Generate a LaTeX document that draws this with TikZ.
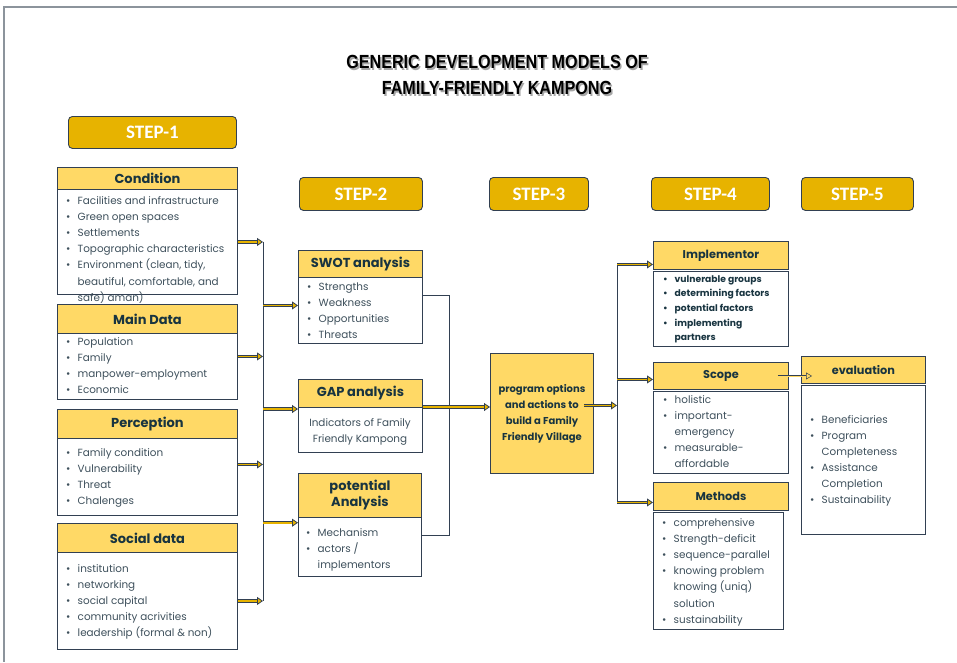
\documentclass[tikz,border=0pt]{standalone}
\usepackage{fontspec}
\usetikzlibrary{arrows.meta}
\newfontfamily\stepfont{Carlito}
\newfontfamily\titlefont{Liberation Sans}
\newfontfamily\gothic{Poppins}
\definecolor{stepgold}{RGB}{231,179,0}
\definecolor{headgold}{RGB}{255,217,102}
\definecolor{edge}{RGB}{50,64,82}
\definecolor{ink}{RGB}{24,52,64}
\definecolor{txt}{RGB}{62,80,92}
\definecolor{framec}{RGB}{140,148,156}
\newcommand\bu{\makebox[11.5pt][l]{\textbullet}}
\newcommand\ind{\hspace*{11.5pt}}
\newcommand\itemsof[1]{\begin{tabular}[t]{@{}l@{}}#1\end{tabular}}
\newcommand\banner[1]{\scalebox{0.85}[1]{#1}}
\begin{document}
\begin{tikzpicture}[x=1pt,y=-1pt,
  stepbox/.style={draw=edge, line width=0.9pt, fill=stepgold, rounded corners=4pt,
    text=white, font=\stepfont\bfseries\fontsize{19}{20}\selectfont,
    anchor=north west, inner sep=0pt},
  head/.style={draw=edge, line width=0.9pt, fill=headgold, text=ink, align=center,
    font=\gothic\bfseries\fontsize{13}{16}\selectfont, anchor=north west, inner sep=0pt},
  smallhead/.style={head, font=\gothic\bfseries\fontsize{11.3}{14}\selectfont},
  box/.style={draw=edge, line width=0.9pt, fill=white, anchor=north west, inner sep=0pt},
  items/.style={anchor=base west, inner sep=0pt, text=txt,
    font=\gothic\fontsize{10.4}{16.1}\selectfont},
  title/.style={font=\titlefont\bfseries\fontsize{19}{20}\selectfont, inner sep=0pt},
  feed/.style={draw=edge, double=stepgold, double distance=1.6pt, line width=0.8pt,
    -{Triangle[length=6pt,width=8pt,fill=stepgold]}},
  link/.style={draw=edge, double=headgold, double distance=0.9pt, line width=0.5pt,
    -{Triangle[length=6pt,width=7pt,fill=headgold]}},
  wire/.style={draw=edge, line width=1pt}]
\useasboundingbox (0,0) rectangle (957,662);
\draw[framec, line width=1.2pt] (957,7) -- (4,7) -- (4,662);

% heading
\node[title, text=black!35] (titleAsh) at (498.5,63.5) {\banner{GENERIC DEVELOPMENT MODELS OF}};
\node[title, text=black!35] (titleBsh) at (498.5,89.5) {\banner{FAMILY-FRIENDLY KAMPONG}};
\node[title] (titleA) at (497,62) {\banner{GENERIC DEVELOPMENT MODELS OF}};
\node[title] (titleB) at (497,88) {\banner{FAMILY-FRIENDLY KAMPONG}};

% steps
\node[stepbox, minimum width=168pt, minimum height=32pt] (s1) at (68,116) {STEP-1};
\node[stepbox, minimum width=123pt, minimum height=33pt] (s2) at (299,177) {STEP-2};
\node[stepbox, minimum width=99pt, minimum height=33pt] (s3) at (489,177) {STEP-3};
\node[stepbox, minimum width=118pt, minimum height=33pt] (s4) at (651,177) {STEP-4};
\node[stepbox, minimum width=112pt, minimum height=33pt] (s5) at (801,177) {STEP-5};

% step 1 column
\node[head, minimum width=180pt, minimum height=22pt] (condHead) at (57,167) {Condition};
\node[box, minimum width=180pt, minimum height=105pt] (condBody) at (57,189) {};
\node[items] (condList) at (66,204.5) {\itemsof{\bu Facilities and infrastructure\\
  \bu Green open spaces\\ \bu Settlements\\ \bu Topographic characteristics\\
  \bu Environment (clean, tidy,\\ \ind beautiful, comfortable, and\\ \ind safe) aman)}};
\node[head, minimum width=180pt, minimum height=29pt] (mainHead) at (57,304) {Main Data};
\node[box, minimum width=180pt, minimum height=66pt] (mainBody) at (57,333) {};
\node[items] (mainList) at (66,345.5) {\itemsof{\bu Population\\ \bu Family\\
  \bu manpower-employment\\ \bu Economic}};
\node[head, minimum width=180pt, minimum height=29pt] (percHead) at (57,409) {Perception};
\node[box, minimum width=180pt, minimum height=77pt] (percBody) at (57,438) {};
\node[items] (percList) at (66,456.3) {\itemsof{\bu Family condition\\ \bu Vulnerability\\
  \bu Threat\\ \bu Chalenges}};
\node[head, minimum width=180pt, minimum height=29pt] (socHead) at (57,523) {Social data};
\node[box, minimum width=180pt, minimum height=97pt] (socBody) at (57,552) {};
\node[items] (socList) at (66,572.3) {\itemsof{\bu institution\\ \bu networking\\
  \bu social capital\\ \bu community acrivities\\ \bu leadership (formal \& non)}};

% step 2 column
\node[head, minimum width=124pt, minimum height=27pt] (swotHead) at (298,250) {SWOT analysis};
\node[box, minimum width=124pt, minimum height=66pt] (swotBody) at (298,277) {};
\node[items] (swotList) at (307,290) {\itemsof{\bu Strengths\\ \bu Weakness\\
  \bu Opportunities\\ \bu Threats}};
\node[head, minimum width=124pt, minimum height=28pt] (gapHead) at (298,379) {GAP analysis};
\node[box, minimum width=124pt, minimum height=45pt] (gapBody) at (298,407) {};
\node[items, anchor=base] (gapText) at (360,426.5) {\begin{tabular}[t]{@{}c@{}}Indicators of Family\\
  Friendly Kampong\end{tabular}};
\node[head, minimum width=123pt, minimum height=44pt] (potHead) at (298,473) {potential\\Analysis};
\node[box, minimum width=123pt, minimum height=59pt] (potBody) at (298,517) {};
\node[items] (potList) at (306,536) {\itemsof{\bu Mechanism\\ \bu actors /\\ \ind implementors}};

% step 3
\node[head, minimum width=103pt, minimum height=120pt,
  font=\gothic\bfseries\fontsize{10}{16}\selectfont] (prog) at (490,353)
  {program options\\and actions to\\build a Family\\Friendly Village};

% step 4 column
\node[smallhead, minimum width=135pt, minimum height=28pt] (implHead) at (653,241) {Implementor};
\node[box, minimum width=135pt, minimum height=75pt] (implBody) at (653,271) {};
\node[items, text=ink, font=\gothic\bfseries\fontsize{9.2}{14.7}\selectfont] (implList) at (663,282)
  {\itemsof{\bu vulnerable groups\\ \bu determining factors\\ \bu potential factors\\
  \bu implementing\\ \ind partners}};
\node[smallhead, minimum width=135pt, minimum height=27pt] (scopeHead) at (653,362) {Scope};
\node[box, minimum width=135pt, minimum height=82pt] (scopeBody) at (653,391) {};
\node[items] (scopeList) at (663,403.3) {\itemsof{\bu holistic\\ \bu important-\\ \ind emergency\\
  \bu measurable-\\ \ind affordable}};
\node[smallhead, minimum width=135pt, minimum height=28pt] (methHead) at (653,482) {Methods};
\node[box, minimum width=130pt, minimum height=117pt] (methBody) at (653,512) {};
\node[items] (methList) at (662,526.5) {\itemsof{\bu comprehensive\\ \bu Strength-deficit\\
  \bu sequence-parallel\\ \bu knowing problem\\ \ind knowing (uniq)\\ \ind solution\\
  \bu sustainability}};

% step 5 column
\node[smallhead, minimum width=124pt, minimum height=27pt] (evalHead) at (801,356) {evaluation};
\node[box, minimum width=124pt, minimum height=149pt] (evalBody) at (801,385) {};
\node[items] (evalList) at (810,423.3) {\itemsof{\bu Beneficiaries\\ \bu Program\\
  \ind Completeness\\ \bu Assistance\\ \ind Completion\\ \bu Sustainability}};

% step 1 -> step 2
\coordinate (busTop) at (263,241.5);
\coordinate (busBot) at (263,600.5);
\draw[wire] (busTop) -- (busBot);
\draw[feed] (condBody.east) -- (condBody.east -| busTop);
\draw[feed] ([yshift=10pt]mainBody.east) -- ([yshift=10pt]mainBody.east -| busTop);
\draw[feed] ([yshift=12.5pt]percBody.east) -- ([yshift=12.5pt]percBody.east -| busTop);
\draw[feed] (socBody.east) -- (socBody.east -| busTop);
\coordinate (swotIn) at ([yshift=5pt]swotBody.west);
\coordinate (gapIn) at ([yshift=-2pt]gapBody.north west);
\coordinate (potIn) at ([yshift=-5.7pt]potBody.north west);
\draw[feed] (swotIn -| busTop) -- (swotIn);
\draw[feed] (gapIn -| busTop) -- (gapIn);
\draw[feed] (potIn -| busTop) -- (potIn);

% step 2 -> step 3
\coordinate (joinB) at (449,535);
\draw[wire] ([yshift=15pt]swotBody.east) -| (joinB) -- (potBody.east |- joinB);
\draw[feed] (gapBody.north east) -- (gapBody.north east -| prog.west);

% step 3 -> step 4
\coordinate (busR) at (617,264);
\coordinate (busRBot) at (617,502.3);
\draw[wire] (busR) -- (busRBot);
\coordinate (progOut) at ([xshift=-10pt,yshift=8pt]prog.east);
\draw[feed] (progOut) -- (progOut -| busR);
\coordinate (implIn) at ([yshift=-9pt]implHead.west);
\coordinate (scopeIn) at ([yshift=-3.5pt]scopeHead.west);
\coordinate (methIn) at ([yshift=-6pt]methHead.west);
\draw[feed] (implIn -| busR) -- (implIn);
\draw[feed] (scopeIn -| busR) -- (scopeIn);
\draw[feed] (methIn -| busR) -- (methIn);

% step 4 -> step 5
\coordinate (scopeOut) at ([xshift=-11pt]scopeHead.east);
\coordinate (evalIn) at ([xshift=11pt]evalHead.west);
\draw[link] (scopeOut) -- (scopeOut -| evalIn);
\end{tikzpicture}
\end{document}
